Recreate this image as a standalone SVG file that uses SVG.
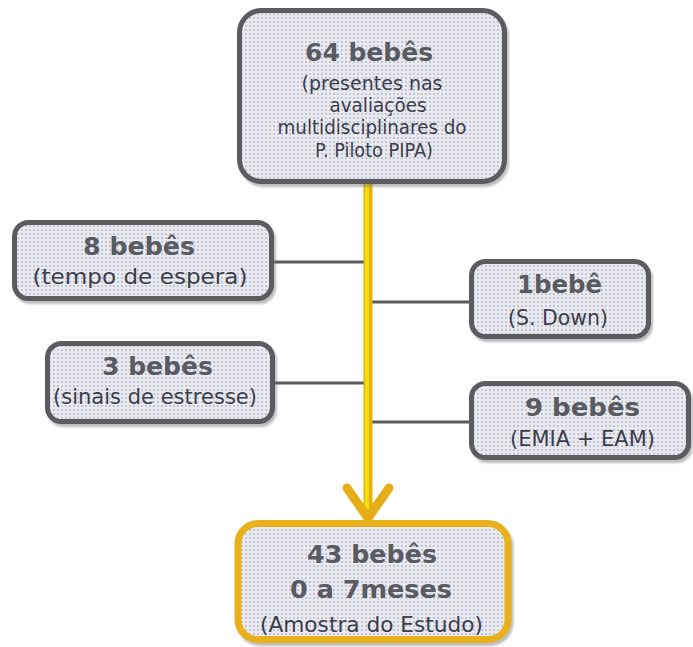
<svg xmlns="http://www.w3.org/2000/svg" width="693" height="647" viewBox="0 0 693 647">
<defs>
<filter id="sh" x="-10%" y="-10%" width="130%" height="130%">
<feDropShadow dx="2" dy="3" stdDeviation="1.2" flood-color="#6a6a70" flood-opacity="0.45"/>
</filter>
<pattern id="dots" width="4" height="4" patternUnits="userSpaceOnUse">
<rect width="4" height="4" fill="#e9eaf0"/>
<rect x="1" y="1" width="2" height="2" fill="#c4c6d2"/>
</pattern>
</defs>
<style>
.box{fill:url(#dots);stroke:#5b5b60;stroke-width:5;filter:url(#sh)}
.gold{fill:url(#dots);stroke:#e8b11c;stroke-width:7;filter:url(#sh)}
.b{font-family:"DejaVu Sans","Liberation Sans",sans-serif;font-weight:bold;font-size:25px;fill:#595a62;text-anchor:middle}
.n{font-family:"DejaVu Sans","Liberation Sans",sans-serif;font-size:21px;fill:#3c3e4c;text-anchor:middle}
.t{font-size:20px}
.c{stroke:#5b5b60;stroke-width:3;fill:none}
</style>
<rect width="693" height="647" fill="#ffffff"/>
<g id="connectors">
<line class="c" x1="273" y1="262" x2="366" y2="262"/>
<line class="c" x1="273" y1="383" x2="366" y2="383"/>
<line class="c" x1="372" y1="302" x2="470" y2="302"/>
<line class="c" x1="372" y1="422" x2="470" y2="422"/>
<line x1="368" y1="183" x2="368" y2="514" stroke="#e4b300" stroke-width="9"/>
<line x1="367" y1="183" x2="367" y2="512" stroke="#f7dc10" stroke-width="4"/>
<polyline points="347,488 368,518 389,488" fill="none" stroke="#e6ae16" stroke-width="9" stroke-linecap="round" stroke-linejoin="round"/>
</g>
<g id="top">
<rect class="box" x="239.5" y="10.5" width="265" height="171" rx="22"/>
<text class="b" x="369" y="61" textLength="128" lengthAdjust="spacingAndGlyphs">64 bebês</text>
<text class="n t" x="372" y="90" textLength="141" lengthAdjust="spacingAndGlyphs">(presentes nas</text>
<text class="n t" x="378" y="112" textLength="97" lengthAdjust="spacingAndGlyphs">avaliações</text>
<text class="n t" x="372" y="134" textLength="189" lengthAdjust="spacingAndGlyphs">multidisciplinares do</text>
<text class="n t" x="374" y="157" textLength="118" lengthAdjust="spacingAndGlyphs">P. Piloto PIPA)</text>
</g>
<g id="left1">
<rect class="box" x="14.5" y="222.5" width="257" height="76" rx="14"/>
<text class="b" x="139" y="255" textLength="112" lengthAdjust="spacingAndGlyphs">8 bebês</text>
<text class="n" x="140" y="284" textLength="215" lengthAdjust="spacingAndGlyphs">(tempo de espera)</text>
</g>
<g id="left2">
<rect class="box" x="47.5" y="343.5" width="225" height="78" rx="14"/>
<text class="b" x="157.5" y="375" textLength="111" lengthAdjust="spacingAndGlyphs">3 bebês</text>
<text class="n" x="155" y="404" textLength="204" lengthAdjust="spacingAndGlyphs">(sinais de estresse)</text>
</g>
<g id="right1">
<rect class="box" x="471.5" y="261.5" width="177" height="75" rx="14"/>
<text class="b" x="559.5" y="293" textLength="85" lengthAdjust="spacingAndGlyphs">1bebê</text>
<text class="n" x="558" y="325" textLength="100" lengthAdjust="spacingAndGlyphs">(S. Down)</text>
</g>
<g id="right2">
<rect class="box" x="471.5" y="383.5" width="217" height="74" rx="14"/>
<text class="b" x="582.5" y="416" textLength="115" lengthAdjust="spacingAndGlyphs">9 bebês</text>
<text class="n" x="582.5" y="446" textLength="145" lengthAdjust="spacingAndGlyphs">(EMIA + EAM)</text>
</g>
<g id="bottom">
<rect class="gold" x="238" y="523.5" width="270" height="116" rx="20"/>
<text class="b" x="372" y="563" textLength="130" lengthAdjust="spacingAndGlyphs">43 bebês</text>
<text class="b" x="371" y="598" textLength="162" lengthAdjust="spacingAndGlyphs">0 a 7meses</text>
<text class="n" x="371.5" y="632" textLength="223" lengthAdjust="spacingAndGlyphs" style="font-size:22px">(Amostra do Estudo)</text>
</g>
</svg>
